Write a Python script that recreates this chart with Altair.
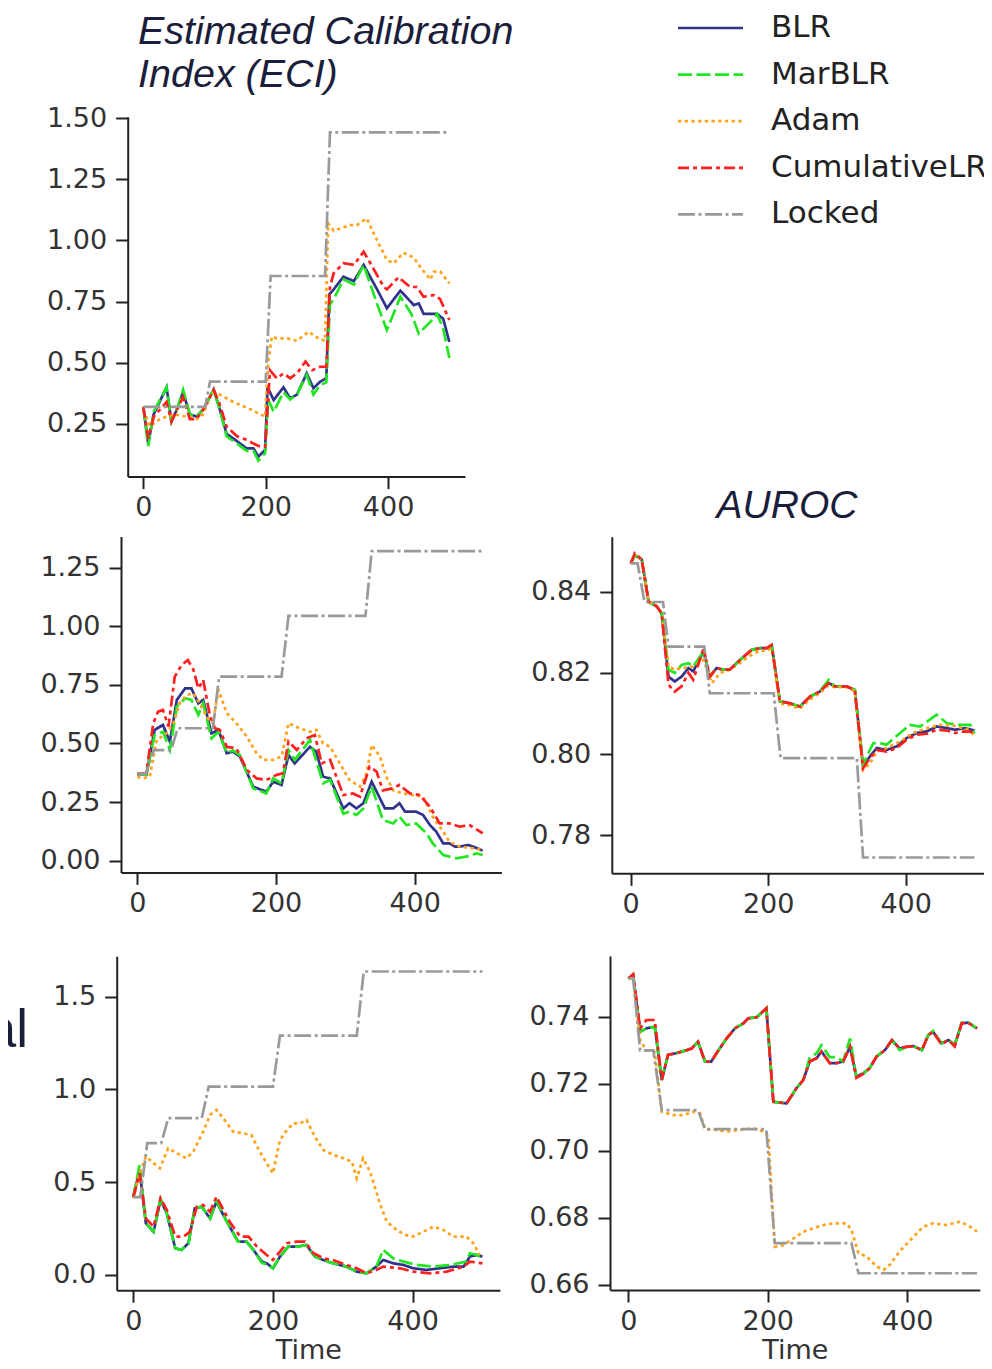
import altair as alt
import pandas as pd

SERIES = ["BLR", "MarBLR", "Adam", "CumulativeLR", "Locked"]
COLORS = ["#30338c", "#22e622", "#ffa31a", "#ff1f1f", "#9a9a9a"]
DASHES = [[1, 0], [14, 4.5], [3.3, 3.4], [11, 4, 4, 4], [17, 3.5, 3, 3.5]]

# ---------------- Panel 1: ECI (top) ----------------
P1_BLR_T = [0, 8, 17, 38, 46, 55, 65, 76, 87, 98, 115, 125, 136, 153, 169, 180, 188, 199, 203, 213, 229, 240, 251, 267, 278, 289, 299, 304, 311, 327, 344, 360, 382, 398, 420, 442, 450, 458, 480, 490, 500]
P1_BLR_V = [0.32, 0.17, 0.29, 0.40, 0.26, 0.31, 0.38, 0.29, 0.28, 0.31, 0.39, 0.31, 0.21, 0.18, 0.15, 0.15, 0.117, 0.144, 0.40, 0.348, 0.40, 0.355, 0.37, 0.457, 0.396, 0.423, 0.437, 0.78, 0.80, 0.852, 0.834, 0.90, 0.80, 0.723, 0.795, 0.736, 0.743, 0.70, 0.70, 0.68, 0.586]
P1_MAR_T = [0, 8, 17, 38, 46, 55, 65, 76, 87, 98, 115, 125, 136, 153, 169, 180, 188, 199, 204, 213, 229, 240, 251, 267, 278, 289, 299, 305, 311, 327, 344, 360, 382, 398, 420, 438, 450, 470, 480, 490, 500]
P1_MAR_V = [0.32, 0.16, 0.30, 0.40, 0.26, 0.31, 0.39, 0.29, 0.28, 0.31, 0.39, 0.31, 0.20, 0.17, 0.14, 0.14, 0.10, 0.13, 0.35, 0.30, 0.38, 0.35, 0.37, 0.45, 0.37, 0.41, 0.42, 0.74, 0.76, 0.84, 0.82, 0.90, 0.74, 0.634, 0.77, 0.70, 0.62, 0.67, 0.70, 0.64, 0.52]
P1_ADAM_T = [0, 11, 27, 49, 71, 87, 98, 112, 125, 147, 175, 199, 204, 210, 218, 235, 251, 270, 286, 297, 302, 311, 338, 349, 365, 382, 398, 409, 425, 442, 453, 469, 475, 485, 500]
P1_ADAM_V = [0.307, 0.24, 0.27, 0.29, 0.28, 0.27, 0.29, 0.38, 0.37, 0.34, 0.31, 0.28, 0.50, 0.607, 0.60, 0.60, 0.59, 0.627, 0.60, 0.59, 1.07, 1.04, 1.063, 1.063, 1.09, 1.0, 0.92, 0.907, 0.95, 0.93, 0.89, 0.84, 0.873, 0.873, 0.825]
P1_CUM_T = [0, 8, 17, 38, 46, 55, 65, 76, 87, 98, 115, 125, 136, 153, 169, 180, 188, 199, 207, 218, 229, 240, 251, 265, 276, 289, 299, 305, 311, 327, 344, 360, 371, 393, 398, 417, 436, 447, 458, 475, 485, 500]
P1_CUM_V = [0.32, 0.19, 0.28, 0.34, 0.26, 0.31, 0.36, 0.27, 0.27, 0.31, 0.39, 0.33, 0.24, 0.20, 0.185, 0.17, 0.16, 0.157, 0.47, 0.437, 0.457, 0.437, 0.457, 0.505, 0.47, 0.484, 0.484, 0.81, 0.866, 0.907, 0.90, 0.954, 0.907, 0.81, 0.80, 0.85, 0.81, 0.81, 0.77, 0.777, 0.76, 0.675]
P1_LOCK_T = [0, 101, 109, 200, 208, 297, 305, 500]
P1_LOCK_V = [0.32, 0.32, 0.423, 0.423, 0.855, 0.855, 1.442, 1.442]

# ---------------- Panel 2: ECI (middle) ----------------
P2_BLR_T = [0, 13, 25, 37, 47, 57, 69, 78, 88, 95, 107, 117, 129, 138, 148, 167, 186, 196, 208, 218, 227, 249, 258, 268, 278, 297, 306, 316, 326, 338, 357, 369, 378, 386, 402, 412, 422, 431, 441, 450, 458, 465, 477, 484, 498]
P2_BLR_V = [0.37, 0.366, 0.558, 0.579, 0.508, 0.686, 0.735, 0.735, 0.671, 0.686, 0.543, 0.558, 0.458, 0.465, 0.444, 0.316, 0.294, 0.337, 0.323, 0.451, 0.415, 0.486, 0.465, 0.358, 0.351, 0.223, 0.245, 0.223, 0.245, 0.337, 0.223, 0.223, 0.245, 0.209, 0.209, 0.195, 0.152, 0.124, 0.074, 0.074, 0.06, 0.06, 0.067, 0.06, 0.043]
P2_MAR_T = [0, 13, 25, 37, 47, 57, 69, 78, 88, 95, 107, 117, 129, 138, 148, 167, 186, 196, 208, 218, 227, 249, 268, 278, 297, 306, 316, 326, 338, 354, 369, 378, 388, 402, 417, 426, 441, 460, 474, 489, 498]
P2_MAR_V = [0.37, 0.366, 0.536, 0.55, 0.472, 0.657, 0.693, 0.686, 0.622, 0.671, 0.522, 0.55, 0.46, 0.47, 0.45, 0.309, 0.287, 0.351, 0.33, 0.472, 0.43, 0.515, 0.33, 0.345, 0.20, 0.209, 0.195, 0.223, 0.316, 0.174, 0.159, 0.188, 0.152, 0.159, 0.117, 0.074, 0.024, 0.01, 0.017, 0.031, 0.024]
P2_ADAM_T = [0, 8, 18, 28, 42, 52, 61, 71, 81, 90, 100, 109, 117, 129, 143, 158, 172, 182, 196, 208, 218, 234, 249, 258, 268, 278, 292, 306, 321, 330, 338, 350, 359, 369, 383, 398, 412, 426, 441, 450, 465, 484, 498]
P2_ADAM_V = [0.358, 0.351, 0.358, 0.515, 0.543, 0.586, 0.671, 0.707, 0.714, 0.671, 0.614, 0.586, 0.728, 0.629, 0.586, 0.529, 0.458, 0.43, 0.43, 0.444, 0.586, 0.565, 0.55, 0.558, 0.50, 0.486, 0.415, 0.344, 0.316, 0.366, 0.494, 0.444, 0.358, 0.30, 0.287, 0.28, 0.273, 0.188, 0.124, 0.081, 0.06, 0.053, 0.046]
P2_CUM_T = [0, 13, 23, 30, 37, 45, 54, 64, 73, 81, 88, 95, 105, 112, 119, 129, 143, 158, 172, 186, 201, 210, 218, 230, 244, 256, 266, 278, 297, 311, 321, 335, 345, 354, 369, 378, 393, 407, 422, 436, 450, 465, 479, 498]
P2_CUM_V = [0.37, 0.373, 0.586, 0.636, 0.643, 0.572, 0.785, 0.835, 0.856, 0.814, 0.735, 0.771, 0.614, 0.565, 0.558, 0.486, 0.479, 0.387, 0.351, 0.344, 0.366, 0.373, 0.508, 0.472, 0.522, 0.536, 0.415, 0.43, 0.28, 0.287, 0.273, 0.401, 0.38, 0.30, 0.309, 0.323, 0.287, 0.28, 0.23, 0.159, 0.159, 0.145, 0.152, 0.117]
P2_LOCK_T = [0, 12, 24, 49, 58, 109, 118, 208, 218, 329, 338, 500]
P2_LOCK_V = [0.37, 0.37, 0.472, 0.472, 0.565, 0.565, 0.785, 0.785, 1.044, 1.044, 1.321, 1.321]

# ---------------- Panel 3: AUROC (middle) ----------------
P3_BLR_T = [0, 6, 16, 26, 38, 45, 55, 64, 74, 84, 91, 106, 115, 125, 135, 144, 159, 176, 188, 198, 205, 217, 232, 246, 261, 275, 288, 297, 314, 326, 338, 348, 358, 372, 387, 401, 416, 431, 445, 460, 472, 486, 500]
P3_BLR_V = [0.847, 0.849, 0.848, 0.8376, 0.8364, 0.8347, 0.8191, 0.8179, 0.8191, 0.8212, 0.8204, 0.8253, 0.8191, 0.8212, 0.8208, 0.8208, 0.8232, 0.8257, 0.8261, 0.8261, 0.8269, 0.813, 0.8125, 0.8117, 0.8142, 0.8154, 0.8175, 0.8167, 0.8167, 0.8158, 0.797, 0.7994, 0.8015, 0.801, 0.8019, 0.8039, 0.8052, 0.8056, 0.8068, 0.8064, 0.806, 0.8064, 0.8058]
P3_MAR_T = [0, 6, 16, 26, 38, 45, 55, 64, 74, 84, 91, 106, 115, 125, 135, 144, 159, 176, 188, 198, 205, 217, 232, 246, 261, 275, 288, 297, 314, 326, 338, 348, 353, 363, 372, 392, 406, 421, 431, 445, 460, 479, 494, 500]
P3_MAR_V = [0.847, 0.849, 0.848, 0.8376, 0.8364, 0.8347, 0.8208, 0.820, 0.822, 0.8224, 0.8216, 0.8253, 0.8191, 0.8212, 0.8208, 0.8208, 0.8232, 0.8257, 0.8261, 0.8261, 0.8269, 0.813, 0.8125, 0.8117, 0.8142, 0.8154, 0.8183, 0.8167, 0.8167, 0.8158, 0.7975, 0.801, 0.8027, 0.8027, 0.8023, 0.8052, 0.8072, 0.8068, 0.808, 0.8097, 0.8076, 0.8072, 0.8072, 0.805]
P3_ADAM_T = [0, 6, 16, 26, 38, 45, 55, 64, 74, 91, 106, 118, 130, 144, 159, 176, 188, 198, 205, 217, 232, 246, 261, 275, 288, 297, 314, 326, 338, 348, 358, 372, 392, 411, 431, 450, 469, 489, 500]
P3_ADAM_V = [0.847, 0.849, 0.848, 0.8376, 0.8364, 0.8347, 0.8216, 0.8208, 0.8212, 0.8216, 0.8232, 0.8175, 0.820, 0.8208, 0.8225, 0.8245, 0.8255, 0.8255, 0.826, 0.8125, 0.812, 0.8112, 0.8135, 0.815, 0.817, 0.8165, 0.8165, 0.8155, 0.7961, 0.7977, 0.8006, 0.8015, 0.8031, 0.8052, 0.8064, 0.8072, 0.807, 0.8062, 0.8047]
P3_CUM_T = [0, 6, 16, 26, 38, 45, 55, 64, 74, 84, 91, 106, 115, 125, 135, 144, 159, 176, 188, 198, 205, 217, 232, 246, 261, 275, 288, 297, 314, 326, 338, 348, 358, 372, 387, 401, 416, 431, 445, 460, 472, 486, 500]
P3_CUM_V = [0.847, 0.8495, 0.848, 0.8376, 0.8364, 0.8347, 0.8171, 0.8154, 0.8167, 0.820, 0.8183, 0.8261, 0.8191, 0.8212, 0.8208, 0.8208, 0.8232, 0.8257, 0.8261, 0.8261, 0.8269, 0.813, 0.8125, 0.8117, 0.8142, 0.8154, 0.8175, 0.8167, 0.8167, 0.8158, 0.7965, 0.799, 0.801, 0.8006, 0.8015, 0.8035, 0.8048, 0.805, 0.806, 0.8058, 0.8052, 0.8056, 0.8054]
P3_LOCK_T = [0, 10, 20, 47, 55, 107, 115, 208, 218, 329, 338, 500]
P3_LOCK_V = [0.847, 0.847, 0.8375, 0.8375, 0.8265, 0.8265, 0.815, 0.815, 0.799, 0.799, 0.7745, 0.7745]

# ---------------- Panel 4: ECI (bottom) ----------------
P4_BLR_T = [0, 9, 18, 29, 39, 48, 60, 69, 79, 88, 98, 110, 119, 134, 150, 162, 172, 184, 191, 200, 210, 222, 236, 248, 260, 272, 286, 305, 320, 334, 348, 358, 372, 387, 401, 420, 439, 458, 473, 482, 492, 500]
P4_BLR_V = [0.42, 0.566, 0.278, 0.233, 0.404, 0.332, 0.144, 0.135, 0.171, 0.359, 0.368, 0.305, 0.395, 0.287, 0.18, 0.18, 0.135, 0.072, 0.063, 0.036, 0.099, 0.153, 0.153, 0.162, 0.099, 0.081, 0.063, 0.045, 0.018, 0.009, 0.045, 0.081, 0.063, 0.054, 0.036, 0.027, 0.036, 0.045, 0.045, 0.099, 0.108, 0.099]
P4_MAR_T = [0, 9, 18, 29, 39, 48, 60, 69, 79, 88, 98, 110, 119, 134, 150, 162, 172, 184, 191, 200, 210, 222, 236, 248, 260, 272, 286, 305, 320, 334, 348, 358, 372, 387, 406, 430, 454, 477, 482, 492, 500]
P4_MAR_V = [0.42, 0.593, 0.278, 0.233, 0.41, 0.332, 0.144, 0.135, 0.171, 0.359, 0.368, 0.305, 0.40, 0.287, 0.18, 0.18, 0.135, 0.065, 0.058, 0.036, 0.099, 0.153, 0.153, 0.162, 0.099, 0.081, 0.063, 0.045, 0.018, 0.009, 0.045, 0.135, 0.09, 0.072, 0.054, 0.045, 0.054, 0.072, 0.117, 0.108, 0.09]
P4_ADAM_T = [0, 9, 18, 29, 38, 50, 62, 76, 86, 100, 110, 119, 129, 143, 158, 169, 181, 191, 200, 210, 220, 229, 239, 248, 260, 272, 286, 301, 313, 320, 329, 339, 353, 363, 377, 389, 401, 415, 430, 444, 458, 477, 487, 496]
P4_ADAM_V = [0.413, 0.548, 0.638, 0.602, 0.575, 0.683, 0.656, 0.629, 0.665, 0.772, 0.862, 0.889, 0.844, 0.772, 0.763, 0.754, 0.665, 0.602, 0.548, 0.727, 0.781, 0.817, 0.817, 0.835, 0.745, 0.674, 0.647, 0.629, 0.611, 0.521, 0.629, 0.557, 0.386, 0.287, 0.243, 0.216, 0.207, 0.233, 0.26, 0.243, 0.207, 0.207, 0.171, 0.108]
P4_CUM_T = [0, 9, 18, 29, 39, 48, 60, 72, 81, 91, 100, 110, 119, 138, 153, 165, 177, 191, 200, 210, 220, 234, 246, 258, 272, 286, 305, 320, 334, 348, 358, 382, 401, 425, 449, 473, 482, 500]
P4_CUM_V = [0.42, 0.548, 0.305, 0.26, 0.413, 0.35, 0.207, 0.207, 0.233, 0.368, 0.377, 0.34, 0.422, 0.287, 0.207, 0.207, 0.153, 0.108, 0.081, 0.126, 0.171, 0.18, 0.18, 0.117, 0.09, 0.081, 0.054, 0.036, 0.009, 0.027, 0.045, 0.036, 0.018, 0.009, 0.018, 0.045, 0.072, 0.063]
P4_LOCK_T = [0, 10, 20, 40, 50, 98, 108, 200, 210, 320, 330, 500]
P4_LOCK_V = [0.42, 0.42, 0.71, 0.71, 0.845, 0.845, 1.015, 1.015, 1.29, 1.29, 1.635, 1.635]

# ---------------- Panel 5: AUROC (bottom) ----------------
P5_BLR_T = [0, 7, 17, 26, 38, 48, 57, 69, 84, 91, 100, 110, 119, 131, 141, 153, 165, 172, 184, 198, 208, 215, 227, 241, 251, 260, 270, 277, 289, 299, 308, 318, 327, 337, 346, 356, 368, 378, 389, 399, 409, 421, 430, 437, 449, 459, 468, 478, 487, 500]
P5_BLR_V = [0.7515, 0.7525, 0.7356, 0.7366, 0.7371, 0.7212, 0.7287, 0.7292, 0.7301, 0.7306, 0.7326, 0.7267, 0.7267, 0.7306, 0.7336, 0.7366, 0.7381, 0.7396, 0.7399, 0.7426, 0.7147, 0.7145, 0.7142, 0.7187, 0.7212, 0.7267, 0.7277, 0.7297, 0.7262, 0.7262, 0.7267, 0.7311, 0.7222, 0.7232, 0.7247, 0.7282, 0.7301, 0.7331, 0.7306, 0.7311, 0.7313, 0.7301, 0.7346, 0.7356, 0.7321, 0.7331, 0.7316, 0.7381, 0.7383, 0.7366]
P5_MAR_T = P5_BLR_T
P5_MAR_V = [0.7515, 0.7525, 0.7356, 0.7366, 0.7371, 0.7212, 0.7287, 0.7292, 0.7301, 0.7306, 0.7326, 0.7267, 0.7267, 0.7306, 0.7336, 0.7366, 0.7381, 0.7396, 0.7399, 0.7426, 0.7147, 0.7145, 0.7142, 0.7187, 0.7212, 0.7277, 0.7292, 0.7316, 0.7280, 0.7280, 0.7267, 0.7336, 0.7222, 0.7232, 0.7247, 0.7282, 0.7301, 0.7331, 0.7301, 0.7311, 0.7313, 0.7301, 0.7346, 0.7358, 0.7321, 0.7331, 0.7316, 0.7383, 0.7385, 0.7366]
P5_ADAM_T = [0, 7, 17, 26, 38, 48, 65, 79, 93, 103, 110, 125, 141, 160, 179, 194, 201, 210, 222, 237, 251, 265, 280, 294, 313, 320, 330, 342, 356, 366, 375, 389, 409, 423, 437, 456, 476, 490, 500]
P5_ADAM_V = [0.7515, 0.752, 0.7331, 0.730, 0.7295, 0.7117, 0.7107, 0.7107, 0.7117, 0.7112, 0.7065, 0.7063, 0.7058, 0.7063, 0.7068, 0.7058, 0.7043, 0.6714, 0.6719, 0.6739, 0.6759, 0.6769, 0.6779, 0.6784, 0.6784, 0.6764, 0.6695, 0.6685, 0.6655, 0.6645, 0.666, 0.670, 0.6744, 0.6774, 0.6784, 0.6779, 0.6789, 0.6774, 0.6759]
P5_CUM_T = P5_BLR_T
P5_CUM_V = [0.7515, 0.7528, 0.7366, 0.7391, 0.7391, 0.7212, 0.7287, 0.7292, 0.7301, 0.7306, 0.7326, 0.7267, 0.7267, 0.7306, 0.7336, 0.7366, 0.7381, 0.7396, 0.7399, 0.7426, 0.7147, 0.7145, 0.7142, 0.7187, 0.7212, 0.7267, 0.7277, 0.7297, 0.7262, 0.7262, 0.7267, 0.7311, 0.7218, 0.7230, 0.7247, 0.7282, 0.7301, 0.7331, 0.7306, 0.7311, 0.7313, 0.7301, 0.7346, 0.7356, 0.7318, 0.7331, 0.7312, 0.7381, 0.7383, 0.7366]
P5_LOCK_T = [0, 7, 17, 36, 48, 100, 110, 198, 210, 320, 330, 500]
P5_LOCK_V = [0.7515, 0.7515, 0.730, 0.730, 0.7122, 0.7122, 0.7065, 0.7065, 0.6725, 0.6725, 0.6635, 0.6635]

PANEL_DATA = {
    "p1": {"BLR": (P1_BLR_T, P1_BLR_V), "MarBLR": (P1_MAR_T, P1_MAR_V), "Adam": (P1_ADAM_T, P1_ADAM_V),
           "CumulativeLR": (P1_CUM_T, P1_CUM_V), "Locked": (P1_LOCK_T, P1_LOCK_V)},
    "p2": {"BLR": (P2_BLR_T, P2_BLR_V), "MarBLR": (P2_MAR_T, P2_MAR_V), "Adam": (P2_ADAM_T, P2_ADAM_V),
           "CumulativeLR": (P2_CUM_T, P2_CUM_V), "Locked": (P2_LOCK_T, P2_LOCK_V)},
    "p3": {"BLR": (P3_BLR_T, P3_BLR_V), "MarBLR": (P3_MAR_T, P3_MAR_V), "Adam": (P3_ADAM_T, P3_ADAM_V),
           "CumulativeLR": (P3_CUM_T, P3_CUM_V), "Locked": (P3_LOCK_T, P3_LOCK_V)},
    "p4": {"BLR": (P4_BLR_T, P4_BLR_V), "MarBLR": (P4_MAR_T, P4_MAR_V), "Adam": (P4_ADAM_T, P4_ADAM_V),
           "CumulativeLR": (P4_CUM_T, P4_CUM_V), "Locked": (P4_LOCK_T, P4_LOCK_V)},
    "p5": {"BLR": (P5_BLR_T, P5_BLR_V), "MarBLR": (P5_MAR_T, P5_MAR_V), "Adam": (P5_ADAM_T, P5_ADAM_V),
           "CumulativeLR": (P5_CUM_T, P5_CUM_V), "Locked": (P5_LOCK_T, P5_LOCK_V)},
}

# axis ticks / formats
P1_YTICKS = [0.25, 0.5, 0.75, 1.0, 1.25, 1.5]
P2_YTICKS = [0.0, 0.25, 0.5, 0.75, 1.0, 1.25]
P3_YTICKS = [0.78, 0.80, 0.82, 0.84]
P4_YTICKS = [0.0, 0.5, 1.0, 1.5]
P5_YTICKS = [0.66, 0.68, 0.70, 0.72, 0.74]
X_TICKS = [0, 200, 400]

W, H = 976, 1353

# layout of each panel (domain and pixel range)
LAYOUT = {
    "p1": dict(xd=[-25.5, 525.6], xr=[119.7, 457.0], yd=[0.035, 1.506], yr=[468.6, 108.7], yt=P1_YTICKS, fmt=".2f"),
    "p2": dict(xd=[-23.5, 525], xr=[113.0, 493.4], yd=[-0.05, 1.383], yr=[864.4, 528.5], yt=P2_YTICKS, fmt=".2f"),
    "p3": dict(xd=[-27.5, 525], xr=[603.8, 983.6], yd=[0.7706, 0.8536], yr=[865.3, 528.7], yt=P3_YTICKS, fmt=".2f"),
    "p4": dict(xd=[-23.8, 525], xr=[108.7, 491.9], yd=[-0.082, 1.717], yr=[1282.2, 948.3], yt=P4_YTICKS, fmt=".1f", title="Time"),
    "p5": dict(xd=[-26.2, 504], xr=[602.0, 971.8], yd=[0.6585, 0.7582], yr=[1282.0, 948.0], yt=P5_YTICKS, fmt=".2f", title="Time"),
}

AX = dict(domainColor="#222222", domainWidth=2, tickColor="#222222", tickWidth=2, tickSize=12,
          labelFont="DejaVu Sans", labelFontSize=27, labelColor="#333333", grid=False,
          labelFlush=False, labelBound=False, labelOverlap=False)

legend = alt.Legend(orient="none", legendX=668.5, legendY=0, title=None, symbolType="stroke",
                    symbolSize=4225, symbolStrokeWidth=2.7, labelFont="DejaVu Sans", labelFontSize=31,
                    labelColor="#222222", labelOffset=26.5, clipHeight=40, rowPadding=6.6, padding=0,
                    labelLimit=0)

layers = []
for pname, series in PANEL_DATA.items():
    rows = []
    for s in SERIES:
        ts, vs = series[s]
        for i, (t, v) in enumerate(zip(ts, vs)):
            rows.append({"series": s, "t": t, "v": v, "i": i})
    df = pd.DataFrame(rows)
    L = LAYOUT[pname]
    xaxis_kw = dict(AX, orient="bottom", offset=L["yr"][0] - H, values=X_TICKS, format="d", labelPadding=6)
    if "title" in L:
        xaxis_kw.update(title=L["title"], titleFont="DejaVu Sans", titleFontSize=27, titleFontWeight="normal",
                        titleColor="#333333", titlePadding=3)
    else:
        xaxis_kw.update(title=None)
    yaxis_kw = dict(AX, orient="left", offset=-L["xr"][0], values=L["yt"], format=L["fmt"], labelPadding=9, title=None)
    layer = alt.Chart(df).mark_line(strokeWidth=2.7).encode(
        x=alt.X("t:Q", scale=alt.Scale(domain=L["xd"], range=L["xr"], nice=False, zero=False), axis=alt.Axis(**xaxis_kw)),
        y=alt.Y("v:Q", scale=alt.Scale(domain=L["yd"], range=L["yr"], nice=False, zero=False), axis=alt.Axis(**yaxis_kw)),
        color=alt.Color("series:N", scale=alt.Scale(domain=SERIES, range=COLORS), legend=legend),
        strokeDash=alt.StrokeDash("series:N", scale=alt.Scale(domain=SERIES, range=DASHES), legend=legend),
        order=alt.Order("i:Q"),
    )
    layers.append(layer)

one = pd.DataFrame({"k": [0]})
title_eci = alt.Chart(one).mark_text(
    text=["Estimated Calibration", "Index (ECI)"], align="left", baseline="alphabetic", lineHeight=43.5,
    font="Liberation Sans", fontStyle="italic", fontSize=39.5, color="#1b1e3a",
).encode(x=alt.value(130), y=alt.value(35.5))
title_auroc = alt.Chart(one).mark_text(
    text="AUROC", align="center", baseline="alphabetic",
    font="Liberation Sans", fontStyle="italic", fontSize=39, color="#1b1e3a",
).encode(x=alt.value(779), y=alt.value(510))
side_text = alt.Chart(one).mark_text(
    text="al", align="right", baseline="alphabetic",
    font="Liberation Sans", fontSize=53, color="#1b1e3a",
).encode(x=alt.value(20), y=alt.value(1039))

chart = alt.layer(*layers, title_eci, title_auroc, side_text).resolve_scale(
    x="independent", y="independent"
).properties(
    width=W, height=H, padding=0, autosize=alt.AutoSizeParams(type="none"), background="white"
).configure_view(stroke=None)

chart.save("out.html", embed_options={"renderer": "svg", "actions": False})
